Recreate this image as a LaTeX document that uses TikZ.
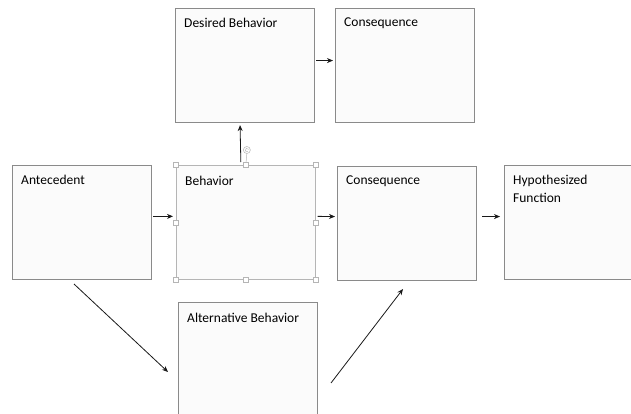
\documentclass[tikz,border=0pt]{standalone}
\usepackage{fontspec}
\setmainfont{Carlito}
\usetikzlibrary{arrows.meta}
\definecolor{boxgray}{HTML}{8A8A8A}
\definecolor{selgray}{HTML}{B5B5B5}
\definecolor{boxfill}{HTML}{FBFBFB}
\begin{document}
\begin{tikzpicture}[x=1pt,y=-1pt,
  box/.style={draw=boxgray, fill=boxfill, line width=1.1pt, anchor=north west,
    inner sep=0pt, minimum width=139pt, minimum height=114pt},
  selbox/.style={box, draw=selgray, line width=0.7pt},
  txt/.style={anchor=north west, inner sep=0pt, align=left,
    font=\fontsize{13.5}{18}\selectfont, text=black},
  arr/.style={-{Stealth[length=6pt,width=5pt]}, line width=0.8pt, draw=black!90},
  handle/.style={draw=selgray, fill=white, line width=0.5pt, minimum size=5pt,
    inner sep=0pt, rectangle}]
\useasboundingbox (0,0) rectangle (631,414);
\clip (0,0) rectangle (631,414);
% boxes
\node[box] (des) at (175,8) {};
\node[box] (conT) at (335,8) {};
\node[box] (ant) at (12,165) {};
\node[selbox] (beh) at (176,165) {};
\node[box] (conM) at (337,166) {};
\node[box, minimum width=150pt] (hyp) at (504,165) {};
\node[box, minimum height=130pt] (alt) at (178,302) {};
% texts
\node[txt] (tdes) at ([xshift=9pt,yshift=-10pt]des.north west) {Desired Behavior};
\node[txt] (tconT) at ([xshift=9pt,yshift=-10pt]conT.north west) {Consequence};
\node[txt] (tant) at ([xshift=9pt,yshift=-10pt]ant.north west) {Antecedent};
\node[txt] (tbeh) at ([xshift=9pt,yshift=-11pt]beh.north west) {Behavior};
\node[txt] (tconM) at ([xshift=9pt,yshift=-10pt]conM.north west) {Consequence};
\node[txt] (thyp) at ([xshift=9pt,yshift=-10pt]hyp.north west) {Hypothesized\\Function};
\node[txt] (talt) at ([xshift=9pt,yshift=-11pt]alt.north west) {Alternative Behavior};
% horizontal arrows
\draw[arr] ([xshift=1pt,yshift=5pt]des.east) -- ([xshift=-2pt,yshift=5pt]conT.west);
\draw[arr] ([xshift=1pt,yshift=6pt]ant.east) -- ([xshift=-3pt,yshift=6pt]beh.west);
\draw[arr] ([xshift=2pt,yshift=6pt]beh.east) -- ([xshift=-2pt,yshift=7pt]conM.west);
\draw[arr] ([xshift=5pt,yshift=7pt]conM.east) -- ([xshift=-4pt,yshift=6pt]hyp.west);
% vertical arrow from behavior to desired behavior
\coordinate (upS) at ([xshift=-5pt,yshift=3pt]beh.north);
\coordinate (upE) at ([xshift=-5pt,yshift=-2pt]des.south);
\draw[arr] (upS) -- (upE);
% diagonal arrows
\coordinate (d1s) at (74,284);
\coordinate (d1e) at (168,372);
\draw[arr] (d1s) -- (d1e);
\coordinate (d2s) at (331,383);
\coordinate (d2e) at (403,289);
\draw[arr] (d2s) -- (d2e);
% selection handles on behavior
\coordinate (rot) at ([xshift=1pt,yshift=15pt]beh.north);
\draw[selgray, line width=0.5pt] (beh.north) -- ([yshift=-3.5pt]rot);
\node[draw=selgray, fill=white, circle, inner sep=0pt, minimum size=7pt, line width=0.5pt] (rotc) at (rot) {};
\draw[selgray, line width=0.4pt] ([shift={(1.8pt,0.6pt)}]rot) arc[start angle=20, end angle=300, radius=1.8pt];
\foreach \a in {north west,north,north east,west,east,south west,south,south east}
  \node[handle] at (beh.\a) {};
\end{tikzpicture}
\end{document}
